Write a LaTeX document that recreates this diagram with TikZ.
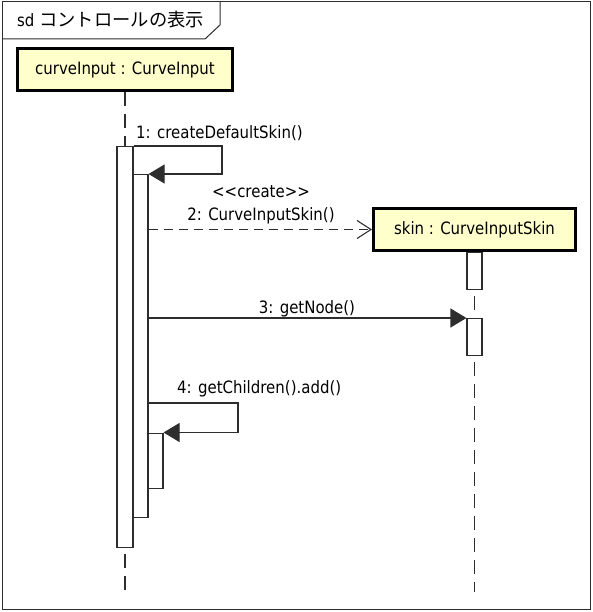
\documentclass[tikz,border=0pt]{standalone}
\usepackage{fontspec}
\setmainfont{DejaVu Sans}[FakeStretch=0.88]
\newfontfamily\jp{Noto Sans CJK JP}
\usetikzlibrary{arrows.meta}
\definecolor{lifefill}{RGB}{255,255,204}
\definecolor{ln}{RGB}{45,45,45}
\begin{document}
\begin{tikzpicture}[x=1pt,y=-1pt,
  font=\fontsize{17}{20}\selectfont,
  objbox/.style={draw=black,line width=3pt,fill=lifefill,inner sep=0pt,minimum height=42pt},
  actbar/.style={draw=ln,line width=1.1pt,fill=white,inner sep=0pt,minimum width=15pt,anchor=north},
  lifeline/.style={draw=ln,line width=1.1pt,dash pattern=on 14pt off 8pt},
  msg/.style={draw=ln,line width=1.1pt,-{Triangle[length=16pt,width=19pt]}},
  createmsg/.style={draw=ln,line width=1.1pt,dash pattern=on 9pt off 6pt,-{Straight Barb[length=14pt,width=18pt]}},
  lbl/.style={inner sep=0pt,text=black}]
\useasboundingbox (0,0) rectangle (593,612);
% frame
\draw[draw=ln,line width=1pt] (2,2) rectangle (590,609);
\draw[draw=ln,line width=1pt] (2,39) -- (205,39) -- (220,25) -- (220,2);
\node[lbl,anchor=west] (title) at (17,20) {sd {\jp\fontsize{18.3}{21}\selectfont コントロールの表示}};
% lifeline heads
\node[objbox,minimum width=215pt] (ci) at (125,69.5) {curveInput : CurveInput};
\node[objbox,minimum width=202pt] (skin) at (474.5,229.5) {skin : CurveInputSkin};
\coordinate (ciend) at (125,592);
\coordinate (skend) at (474.5,592);
\draw[lifeline] (ci.south) -- (ciend);
\draw[lifeline] (skin.south) -- (skend);
% activation bars
\node[actbar,minimum width=16pt,minimum height=401pt] (a1) at (125,146) {};
\node[actbar,minimum height=343pt] (a2) at (140.5,174) {};
\node[actbar,minimum height=55pt] (a3) at (155.5,432.5) {};
\node[actbar,minimum height=37pt] (s1) at (474.5,252) {};
\node[actbar,minimum height=37pt] (s2) at (474.5,318) {};
% message 1
\coordinate (m1a) at (222,146);
\coordinate (m1b) at (222,174);
\draw[msg] (a1.north east) -- (m1a) -- (m1b) -- (a2.north east);
\node[lbl,anchor=west] (l1) at (136,133) {1: createDefaultSkin()};
% message 2
\draw[createmsg] (a2.east |- skin.west) -- (skin.west);
\node[lbl] (l2a) at (261,192) {<{}<create>{}>};
\node[lbl] (l2b) at (261,216) {2: CurveInputSkin()};
% message 3
\draw[msg] (a2.east |- s2.north west) -- (s2.north west);
\node[lbl] (l3) at (307,309) {3: getNode()};
% message 4
\coordinate (m4s) at (148,403);
\coordinate (m4a) at (238,403);
\coordinate (m4b) at (238,432.5);
\draw[msg] (m4s) -- (m4a) -- (m4b) -- (a3.north east);
\node[lbl,anchor=west] (l4) at (177,389) {4: getChildren().add()};
\end{tikzpicture}
\end{document}
